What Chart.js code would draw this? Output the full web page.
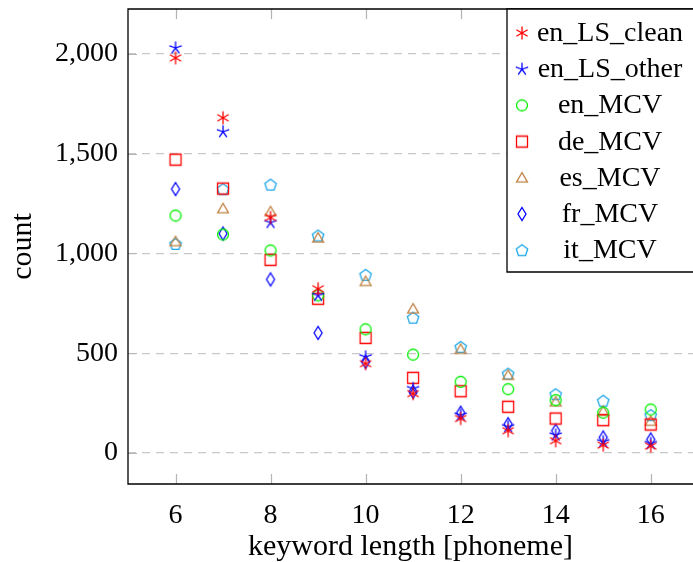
<!DOCTYPE html>
<html>
<head>
<meta charset="utf-8">
<script src="https://cdn.jsdelivr.net/npm/chart.js@4/dist/chart.umd.min.js"></script>
<style>
  html, body { margin: 0; padding: 0; background: #fff; overflow: hidden; }
</style>
</head>
<body>
<canvas id="chart-canvas" width="693" height="562"></canvas>
<script>
//------------------------ DATA ----------------------------

const keywordLengths = [6, 7, 8, 9, 10, 11, 12, 13, 14, 15, 16];
const xTicks = [6, 8, 10, 12, 14, 16];
const yTicks = [0, 500, 1000, 1500, 2000];

const enLsClean = [1980, 1680, 1180, 823, 448, 298, 173, 112, 62, 40, 35];
const enLsOther = [2030, 1610, 1155, 790, 482, 323, 190, 132, 90, 57, 48];
const enMcv = [1190, 1095, 1015, 790, 620, 493, 357, 320, 265, 202, 218];
const deMcv = [1470, 1325, 968, 773, 577, 377, 310, 232, 173, 165, 143];
const esMcv = [1060, 1225, 1210, 1078, 860, 723, 520, 390, 257, 210, 160];
const frMcv = [1323, 1100, 870, 602, 457, 307, 202, 145, 112, 78, 68];
const itMcv = [1048, 1322, 1345, 1090, 893, 678, 532, 398, 295, 262, 190];

//------------------------ MARKERS ----------------------------

// pgfplots-like marks drawn on small canvases, used as point styles
function makeMarker(kind, color) {
  const c = document.createElement("canvas");
  c.width = 18;
  c.height = 18;
  const g = c.getContext("2d");
  const cx = 9, cy = 9;
  g.strokeStyle = color;
  g.lineWidth = 1.3;
  g.beginPath();

  if (kind === "asterisk") {
    [90, 30, 150].forEach((a) => {
      const r = (a * Math.PI) / 180;
      g.moveTo(cx + 6.5 * Math.cos(r), cy - 6.5 * Math.sin(r));
      g.lineTo(cx - 6.5 * Math.cos(r), cy + 6.5 * Math.sin(r));
    });
  } else if (kind === "star") {
    for (let k = 0; k < 5; k++) {
      const r = ((90 + k * 72) * Math.PI) / 180;
      g.moveTo(cx, cy);
      g.lineTo(cx + 6.5 * Math.cos(r), cy - 6.5 * Math.sin(r));
    }
  } else if (kind === "circle") {
    g.arc(cx, cy, 5.5, 0, Math.PI * 2);
  } else if (kind === "square") {
    g.rect(cx - 5.5, cy - 5.5, 11, 11);
  } else if (kind === "triangle") {
    [90, 210, 330].forEach((a, i) => {
      const r = (a * Math.PI) / 180;
      const px = cx + 6.3 * Math.cos(r), py = cy + 1 - 6.3 * Math.sin(r);
      if (i === 0) g.moveTo(px, py); else g.lineTo(px, py);
    });
    g.closePath();
  } else if (kind === "diamond") {
    g.moveTo(cx, cy - 6.5);
    g.lineTo(cx + 4, cy);
    g.lineTo(cx, cy + 6.5);
    g.lineTo(cx - 4, cy);
    g.closePath();
  } else if (kind === "pentagon") {
    for (let k = 0; k < 5; k++) {
      const r = ((90 + k * 72) * Math.PI) / 180;
      const px = cx + 6 * Math.cos(r), py = cy + 0.5 - 6 * Math.sin(r);
      if (k === 0) g.moveTo(px, py); else g.lineTo(px, py);
    }
    g.closePath();
  }
  g.stroke();
  return c;
}

function series(label, values, kind, color) {
  return {
    label: label,
    data: keywordLengths.map((x, i) => ({ x: x, y: values[i] })),
    pointStyle: makeMarker(kind, color),
    pointRadius: 6,
    borderColor: color,
    showLine: false,
  };
}

// no extra room for overhanging tick labels, the frame is fixed
function noPadding(axis) {
  axis.paddingTop = 0;
  axis.paddingBottom = 0;
  axis.paddingLeft = 0;
  axis.paddingRight = 0;
}

//------------------------ PLUGINS ----------------------------

// the right side of the axis box lies just past the picture's edge
const framePlugin = {
  id: "frame",
  beforeDatasetsDraw(chart) {
    const { ctx, chartArea: a, scales } = chart;
    ctx.save();
    ctx.strokeStyle = "#b4b4b4";
    ctx.lineWidth = 1.2;
    ctx.beginPath();
    // x tick marks, inside at top and bottom
    xTicks.forEach((v) => {
      const px = Math.round(scales.x.getPixelForValue(v)) + 0.5;
      ctx.moveTo(px, a.bottom);
      ctx.lineTo(px, a.bottom - 10);
      ctx.moveTo(px, a.top);
      ctx.lineTo(px, a.top + 10);
    });
    // y tick marks, inside at left
    yTicks.forEach((v) => {
      const py = Math.round(scales.y.getPixelForValue(v)) + 0.5;
      ctx.moveTo(a.left, py);
      ctx.lineTo(a.left + 9, py);
    });
    ctx.stroke();
    ctx.restore();
  },
  afterDraw(chart) {
    const { ctx, chartArea: a, width } = chart;
    ctx.save();
    ctx.strokeStyle = "#000";
    ctx.lineWidth = 1.3;
    ctx.beginPath();
    ctx.moveTo(width, a.top);
    ctx.lineTo(a.left, a.top);
    ctx.lineTo(a.left, a.bottom);
    ctx.lineTo(width, a.bottom);
    ctx.stroke();

    // legend box
    const lx = 507, ly = a.top, lh = 263;
    ctx.fillStyle = "#fff";
    ctx.fillRect(lx, ly, width - lx, lh);
    ctx.beginPath();
    ctx.moveTo(width, ly);
    ctx.lineTo(lx, ly);
    ctx.lineTo(lx, ly + lh);
    ctx.lineTo(width, ly + lh);
    ctx.stroke();

    ctx.font = "28px 'Liberation Serif', serif";
    ctx.fillStyle = "#000";
    ctx.textAlign = "center";
    ctx.textBaseline = "alphabetic";
    chart.data.datasets.forEach((ds, i) => {
      const rowY = 33 + i * 36.2;
      const img = ds.pointStyle;
      ctx.drawImage(img, 522 - img.width / 2, rowY - img.height / 2);
      ctx.fillText(ds.label, 610, rowY + 8);
    });
    ctx.restore();
  },
};

//------------------------ CHART ----------------------------

Chart.defaults.font.family = "'Liberation Serif', serif";
Chart.defaults.font.size = 28;
Chart.defaults.color = "#000";

const ctx = document.getElementById("chart-canvas").getContext("2d");
const myChart = new Chart(ctx, {
  type: "scatter",
  data: {
    datasets: [
      series("en_LS_clean", enLsClean, "asterisk", "#ff0000"),
      series("en_LS_other", enLsOther, "star", "#0000ff"),
      series("en_MCV", enMcv, "circle", "#00f000"),
      series("de_MCV", deMcv, "square", "#ff0000"),
      series("es_MCV", esMcv, "triangle", "#bf8040"),
      series("fr_MCV", frMcv, "diamond", "#0000ff"),
      series("it_MCV", itMcv, "pentagon", "#1aa6e8"),
    ],
  },
  options: {
    responsive: false,
    animation: false,
    devicePixelRatio: 1,
    layout: {
      autoPadding: false,
      padding: { left: 0, top: 9, right: 0, bottom: 0 },
    },
    plugins: {
      legend: { display: false },
      tooltip: { enabled: false },
    },
    scales: {
      x: {
        type: "linear",
        min: 5,
        max: 16.89,
        afterBuildTicks: (axis) => {
          axis.ticks = xTicks.map((v) => ({ value: v }));
        },
        afterFit: (axis) => {
          axis.height = 78;
          noPadding(axis);
        },
        grid: { display: false },
        border: { display: false },
        ticks: { padding: 7, maxRotation: 0, autoSkip: false },
        title: {
          display: true,
          text: "keyword length [phoneme]",
          font: { size: 30, lineHeight: 1.0 },
          padding: { top: 0, bottom: 0 },
        },
      },
      y: {
        type: "linear",
        min: -155,
        max: 2225,
        afterBuildTicks: (axis) => {
          axis.ticks = yTicks.map((v) => ({ value: v }));
        },
        afterFit: (axis) => {
          axis.width = 128;
          noPadding(axis);
        },
        grid: { color: "#c8c8c8", lineWidth: 1.2, drawTicks: false },
        border: { display: false, dash: [8, 6] },
        ticks: {
          padding: 10,
          callback: (v) => v.toLocaleString("en-US"),
        },
        title: {
          display: true,
          text: "count",
          font: { size: 30, lineHeight: 1.0 },
          padding: { top: 8, bottom: 0 },
        },
      },
    },
  },
  plugins: [framePlugin],
});
</script>
</body>
</html>
